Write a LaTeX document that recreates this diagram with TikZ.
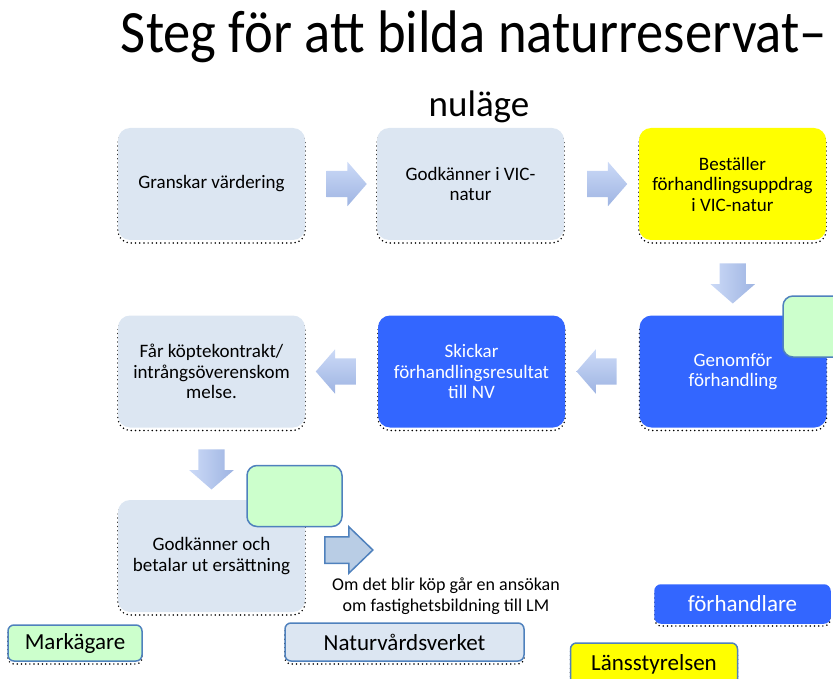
\documentclass[tikz,border=0pt]{standalone}
\usepackage{fontspec}
\setmainfont{Carlito}
\usetikzlibrary{calc}
\usetikzlibrary{shapes.arrows}

\definecolor{boxgray}{RGB}{220,230,242}
\definecolor{nvblue}{RGB}{51,102,255}
\definecolor{lstyellow}{RGB}{255,255,0}
\definecolor{mkgreen}{RGB}{204,255,204}
\definecolor{edgeblue}{RGB}{79,129,189}
\definecolor{arrtop}{RGB}{204,218,247}
\definecolor{arrbot}{RGB}{158,180,226}
\definecolor{arrfill}{RGB}{185,205,229}

\tikzset{
  dotshadow/.style={preaction={draw=black, line width=1.7pt, dash pattern=on 0pt off 4.2pt,
      line cap=round, transform canvas={yshift=-3pt}}},
  stepnode/.style={dotshadow, rectangle, rounded corners=12pt, minimum width=187pt,
      minimum height=112pt, text width=178pt, align=flush center, inner sep=0pt,
      font=\fontsize{19}{20.5}\selectfont},
  graybox/.style={stepnode, fill=boxgray},
  yellowbox/.style={stepnode, fill=lstyellow},
  bluebox/.style={stepnode, fill=nvblue, text=white},
  greentab/.style={draw=edgeblue, line width=1.5pt, fill=mkgreen, rounded corners=10pt,
      minimum width=95pt, minimum height=61pt},
  flowarrow/.style={single arrow, single arrow head extend=9pt, single arrow tip angle=98,
      single arrow head indent=0pt, inner xsep=0pt, inner ysep=13pt, minimum height=40pt,
      top color=arrtop, bottom color=arrbot},
  downarrow/.style={flowarrow, rotate=-90, left color=arrtop, right color=arrbot},
  legendbox/.style={dotshadow, draw=edgeblue, line width=1.5pt, rounded corners=6pt,
      inner sep=0pt, font=\fontsize{23}{23}\selectfont}
}

\begin{document}
\begin{tikzpicture}[x=1pt, y=-1pt]

\useasboundingbox (0,0) rectangle (833,679);
\clip (0,0) rectangle (833,679);

% title
\node[anchor=base, font=\fontsize{54.6}{60}\selectfont] (title) at (474,53) {\scalebox{1}[1.1]{Steg för att bilda naturreservat–}};
\node[anchor=base, font=\fontsize{37}{40}\selectfont] (sub) at (479,117) {nuläge};

% steps
\node[graybox] (granska) at (211.5,184) {Granskar värdering};
\node[graybox] (godkann) at (470.5,184) {Godkänner i VIC-\\natur};
\node[yellowbox] (bestall) at (732.5,184) {Beställer\\förhandlingsuppdrag\\i VIC-natur};
\node[bluebox] (genomfor) at (733,371.5) {Genomför\\förhandling};
\node[greentab] (tabA) at (830.5,326.5) {};
\node[bluebox] (skicka) at (471.5,371.5) {Skickar\\förhandlingsresultat\\till NV};
\node[graybox] (kontrakt) at (211.5,371.5) {Får köptekontrakt/\\intrångsöverenskom\\melse.};
\node[graybox] (betala) at (211.5,556) {Godkänner och\\betalar ut ersättning};
\node[greentab] (tabB) at (294.5,496) {};

% block arrows
\node[flowarrow] (arr1) at ($(granska.east)!0.5!(godkann.west)$) {};
\node[flowarrow] (arr2) at ($(godkann.east)!0.5!(bestall.west)$) {};
\node[downarrow] (arr3) at ($(bestall.south)!0.5!(genomfor.north)$) {};
\node[flowarrow, shape border rotate=180] (arr4) at ($(genomfor.west)!0.5!(skicka.east)$) {};
\node[flowarrow, shape border rotate=180] (arr5) at ($(skicka.west)!0.5!(kontrakt.east)$) {};
\node[downarrow] (arr6) at ($(kontrakt.south)!0.5!(betala.north)$) {};
\node[single arrow, single arrow head extend=10pt, single arrow tip angle=88,
  single arrow head indent=0pt, inner xsep=0pt, inner ysep=12.5pt, minimum height=48pt,
  draw=edgeblue, line width=1.5pt, fill=arrfill] (arr7) at (342,550) {};

\node[font=\fontsize{18}{20.5}\selectfont, align=center] (note) at (446,596)
  {Om det blir köp går en ansökan\\om fastighetsbildning till LM};

% legend
\node[legendbox, fill=mkgreen, minimum width=134pt, minimum height=36pt] (lgMark) at (75,643) {Markägare};
\node[legendbox, fill=boxgray, minimum width=239pt, minimum height=38pt] (lgNV) at (404.5,642) {Naturvårdsverket};
\node[legendbox, draw=nvblue, fill=nvblue, text=white, minimum width=175pt, minimum height=38pt] (lgForh) at (742.5,604) {förhandlare};
\node[legendbox, fill=lstyellow, minimum width=167pt, minimum height=42pt] (lgLst) at (654,664) {Länsstyrelsen};

\end{tikzpicture}
\end{document}
